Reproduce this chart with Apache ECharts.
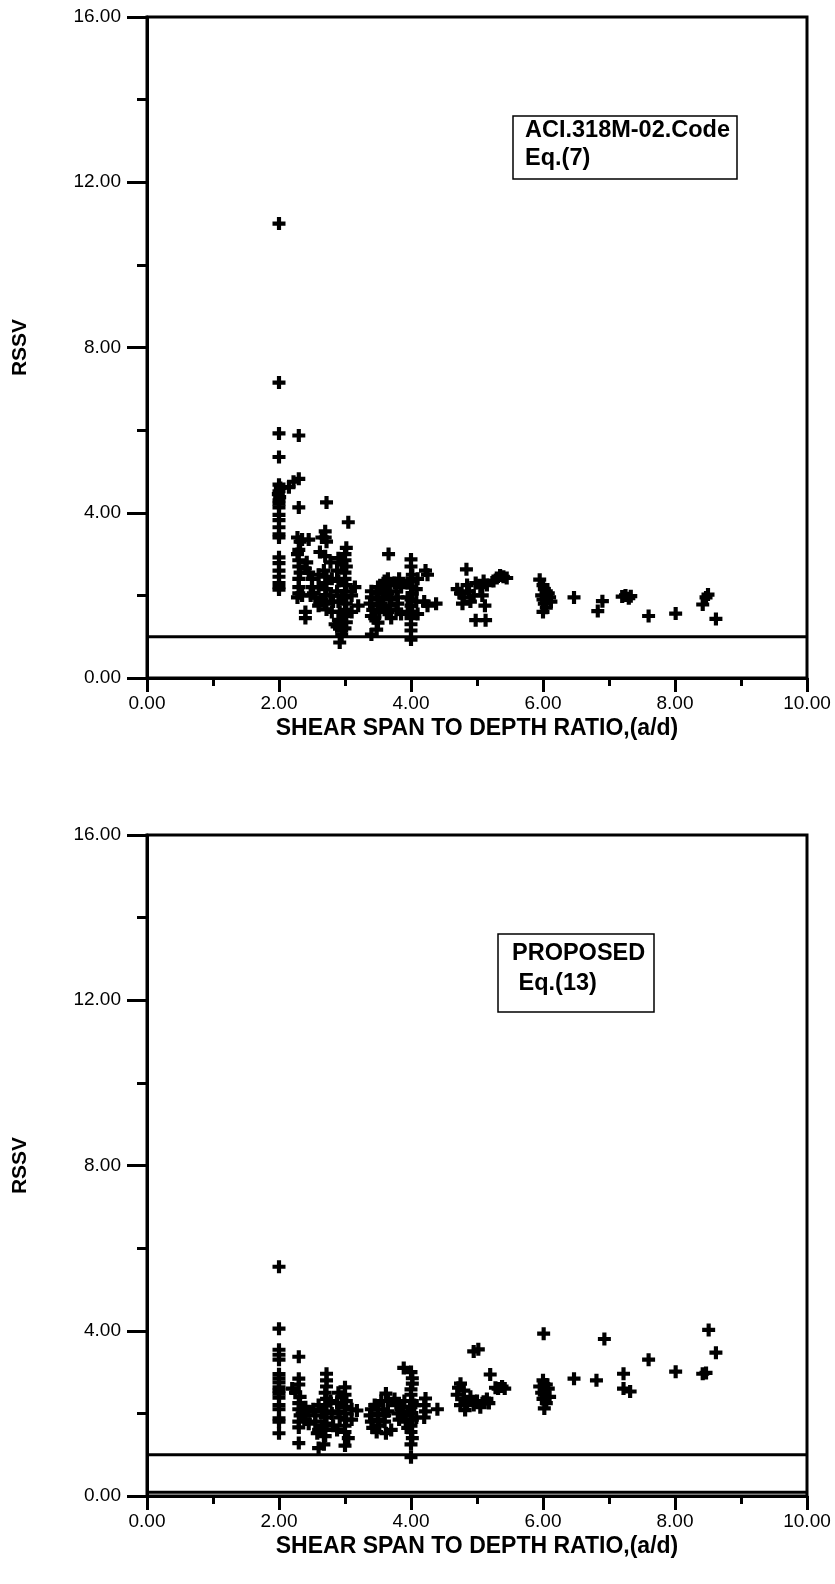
<!DOCTYPE html>
<html>
<head>
<meta charset="utf-8">
<script src="https://cdn.jsdelivr.net/npm/echarts@6/dist/echarts.min.js"></script>
<style>
html,body{margin:0;padding:0;background:#fff;}
#chart{width:835px;height:1584px;}
</style>
</head>
<body>
<div id="chart"></div>
<script>
// ---- data ----
const xTicks = [0, 2, 4, 6, 8, 10];
const yTicks = [0, 4, 8, 12, 16];
const limitValue = 1.0;           // RSSV = 1 reference line
const topLegend = ['ACI.318M-02.Code', 'Eq.(7)'];
const bottomLegend = ['PROPOSED', ' Eq.(13)'];
const xTitle = 'SHEAR SPAN TO DEPTH RATIO,(a/d)';
const yTitle = 'RSSV';

const aciPoints = [
  [2.0,11.0],[2.0,7.15],[2.0,5.92],[2.0,5.35],[2.0,4.68],[2.02,4.6],[2.0,4.52],[1.99,4.45],[2.01,4.38],[2.0,4.3],[2.0,4.22],[2.0,4.13],[2.0,3.95],[2.0,3.82],[2.0,3.65],[2.0,3.48],[2.0,3.4],[2.0,2.92],[2.0,2.78],[2.0,2.6],[2.0,2.45],[2.0,2.3],[2.0,2.2],[2.0,2.14],
  [2.15,4.62],[2.22,4.75],[2.3,4.82],[2.3,5.87],[2.3,4.13],[2.28,3.4],[2.32,3.3],[2.3,3.1],[2.28,3.0],[2.3,2.85],[2.3,2.7],[2.32,2.55],[2.3,2.4],[2.3,2.2],[2.3,2.05],[2.28,1.95],[2.35,2.0],[2.4,1.6],[2.4,1.45],[2.35,3.35],[2.45,3.35],[2.45,2.55],[2.5,2.4],[2.5,2.2],[2.48,2.0],[2.52,2.05],[2.55,1.95],[2.4,2.65],[2.42,2.8],
  [2.72,4.25],[2.7,3.55],[2.7,3.4],[2.72,3.3],[2.65,3.4],[2.62,3.05],[2.7,2.95],[2.68,2.6],[2.72,2.45],[2.7,2.3],[2.72,2.15],[2.7,2.0],[2.65,1.9],[2.7,1.8],[2.72,1.66],[2.6,2.5],[2.6,2.2],[2.6,1.75],[2.78,2.8],[2.8,2.4],[2.78,2.0],[2.82,1.85],[2.8,1.6],
  [3.05,3.77],[3.02,3.15],[3.0,3.0],[3.0,2.85],[3.02,2.7],[3.0,2.55],[3.0,2.4],[3.02,2.25],[3.0,2.1],[3.0,1.95],[3.02,1.8],[3.0,1.65],[3.0,1.5],[3.02,1.35],[3.0,1.2],[2.95,1.05],[2.92,0.86],[2.9,2.9],[2.88,2.6],[2.9,2.35],[2.88,2.1],[2.9,1.85],[2.92,1.6],[2.9,1.4],[2.88,1.25],[2.95,1.15],[2.85,1.3],[2.95,2.75],[2.95,2.0],[3.1,2.0],[3.15,2.2],[3.2,1.75],[3.1,1.6],
  [3.4,2.1],[3.4,1.95],[3.38,1.8],[3.42,1.65],[3.4,1.5],[3.5,2.2],[3.48,2.05],[3.5,1.9],[3.5,1.75],[3.52,1.6],[3.45,1.45],[3.5,1.34],[3.48,1.17],[3.4,1.05],[3.55,2.15],[3.58,1.95],[3.55,1.8],[3.6,2.35],[3.6,2.1],[3.6,1.65],
  [3.66,3.0],[3.65,2.4],[3.68,2.25],[3.65,2.05],[3.7,1.9],[3.68,1.75],[3.65,1.6],[3.7,1.45],[3.75,2.3],[3.78,2.1],[3.8,1.95],[3.8,1.8],[3.78,1.65],[3.82,2.4],[3.85,2.2],[3.85,1.55],
  [4.0,2.87],[4.0,2.7],[4.02,2.5],[4.0,2.35],[4.0,2.2],[4.02,2.05],[4.0,1.9],[4.0,1.75],[4.02,1.6],[4.0,1.45],[4.0,1.3],[4.0,1.15],[4.0,0.93],[3.95,2.3],[3.95,1.95],[3.95,1.6],[4.08,2.15],[4.08,1.85],[4.1,2.4],[4.1,1.55],
  [4.22,2.6],[4.25,2.5],[4.2,1.85],[4.25,1.75],[4.38,1.8],
  [4.84,2.63],[4.7,2.15],[4.75,2.05],[4.8,1.95],[4.85,2.25],[4.88,2.1],[4.9,1.85],[4.78,1.8],[4.95,2.0],[4.98,2.3],[5.05,2.2],[5.1,2.35],[5.15,2.25],[5.08,2.0],[5.12,1.75],[4.98,1.4],[5.13,1.4],[5.25,2.35],[5.3,2.42],[5.35,2.48],[5.4,2.45],[5.45,2.42],
  [5.95,2.38],[6.0,2.25],[6.02,2.15],[6.05,2.1],[5.98,2.0],[6.0,1.9],[6.08,2.05],[6.1,1.95],[6.02,1.8],[6.05,1.7],[6.0,1.6],[6.12,1.85],
  [6.47,1.95],[6.9,1.86],[6.83,1.62],[7.2,1.97],[7.25,2.0],[7.3,1.93],[7.33,1.98],[7.6,1.5],[8.01,1.56],[8.5,2.02],[8.47,1.95],[8.42,1.78],[8.62,1.43]
];

const proposedPoints = [
  [2.0,5.55],[2.0,4.05],[2.0,3.54],[2.0,3.42],[2.0,3.3],[2.0,2.95],[2.0,2.85],[2.0,2.75],[2.0,2.63],[2.0,2.55],[2.0,2.48],[2.0,2.38],[2.0,2.2],[2.0,2.1],[2.0,1.88],[2.0,1.8],[2.0,1.52],
  [2.3,3.37],[2.2,2.6],[2.25,2.5],[2.3,2.84],[2.3,2.7],[2.32,2.4],[2.3,2.25],[2.3,2.1],[2.32,1.95],[2.3,1.8],[2.3,1.66],[2.3,1.28],[2.35,2.0],[2.4,2.15],[2.4,1.85],[2.45,2.05],[2.45,1.75],
  [2.52,2.1],[2.55,1.95],[2.55,1.8],[2.6,2.2],[2.6,1.6],[2.58,1.52],[2.6,1.16],[2.65,2.05],[2.65,1.7],
  [2.72,2.96],[2.72,2.8],[2.72,2.65],[2.7,2.5],[2.72,2.35],[2.7,2.2],[2.72,2.05],[2.7,1.9],[2.72,1.75],[2.7,1.6],[2.7,1.45],[2.68,1.25],[2.78,2.3],[2.8,2.0],[2.82,1.7],
  [3.0,2.63],[3.0,2.45],[3.02,2.3],[3.0,2.15],[3.0,2.0],[3.02,1.85],[3.0,1.7],[3.0,1.55],[3.0,1.22],[2.9,2.5],[2.88,2.25],[2.9,2.05],[2.92,1.9],[2.88,1.6],[2.95,2.4],[3.05,1.4],[3.1,2.1],[3.18,2.07],[3.1,1.85],
  [3.4,2.1],[3.38,1.95],[3.4,1.8],[3.42,1.65],[3.45,2.2],[3.5,2.0],[3.5,1.85],[3.52,1.7],[3.48,1.55],[3.55,2.3],[3.58,2.1],[3.6,1.95],[3.6,1.8],[3.62,2.48],[3.65,2.3],[3.65,2.05],[3.7,1.6],[3.62,1.52],
  [3.75,2.35],[3.78,2.2],[3.8,2.0],[3.82,1.85],[3.85,2.15],[3.88,1.95],[3.89,3.1],[3.9,2.3],[3.92,1.8],
  [4.0,3.0],[4.02,2.85],[4.02,2.72],[4.0,2.58],[4.0,2.45],[4.02,2.3],[4.0,2.15],[4.0,2.0],[4.02,1.85],[4.0,1.7],[4.0,1.55],[4.02,1.4],[4.0,1.25],[4.0,0.94],[4.05,2.2],[4.08,1.9],[3.95,2.05],[3.95,1.65],
  [4.22,2.36],[4.2,2.2],[4.22,2.05],[4.2,1.9],[4.4,2.1],
  [4.72,2.62],[4.75,2.72],[4.7,2.45],[4.8,2.55],[4.8,2.35],[4.85,2.25],[4.75,2.2],[4.82,2.08],[4.9,2.4],[4.95,3.5],[5.02,3.55],[4.95,2.2],[5.0,2.3],[5.05,2.15],[5.1,2.28],[5.15,2.35],[5.18,2.25],[5.2,2.94],[5.28,2.62],[5.32,2.6],[5.38,2.65],[5.42,2.6],
  [6.01,3.93],[5.95,2.65],[6.0,2.8],[6.05,2.7],[5.98,2.5],[6.02,2.45],[6.08,2.6],[6.0,2.35],[6.05,2.25],[6.02,2.12],[6.1,2.4],
  [6.47,2.84],[6.81,2.8],[6.93,3.8],[7.22,2.96],[7.22,2.6],[7.32,2.53],[7.6,3.3],[8.01,3.01],[8.42,2.96],[8.47,2.98],[8.51,4.02],[8.62,3.47]
];

// ---- chart ----
const FONT = '"Liberation Sans", Arial, Helvetica, sans-serif';
const PLUS = 'path://M3.4,0H6.6V3.4H10V6.6H6.6V10H3.4V6.6H0V3.4H3.4Z';
const xMin = xTicks[0], xMax = xTicks[xTicks.length - 1];
const yMin = yTicks[0], yMax = yTicks[yTicks.length - 1];

function xAxisDef(gridIndex) {
  return {
    gridIndex, type: 'value', min: xMin, max: xMax, interval: xTicks[1] - xTicks[0],
    name: xTitle, nameLocation: 'middle', nameGap: 39,
    nameTextStyle: { fontFamily: FONT, fontWeight: 'bold', fontSize: 23, color: '#000' },
    axisLine: { show: true, onZero: false, lineStyle: { color: '#000', width: 3 } },
    axisTick: { show: true, inside: false, length: 14, lineStyle: { color: '#000', width: 3 } },
    minorTick: { show: true, splitNumber: 2, length: 8, lineStyle: { color: '#000', width: 3 } },
    axisLabel: { fontFamily: FONT, fontSize: 19, color: '#000', margin: 16, formatter: v => v.toFixed(2) },
    splitLine: { show: false }, minorSplitLine: { show: false }
  };
}
function yAxisDef(gridIndex) {
  return {
    gridIndex, type: 'value', min: yMin, max: yMax, interval: yTicks[1] - yTicks[0],
    name: yTitle, nameLocation: 'middle', nameGap: 116, nameRotate: 90,
    nameTextStyle: { fontFamily: FONT, fontWeight: 'bold', fontSize: 21, color: '#000' },
    axisLine: { show: true, onZero: false, lineStyle: { color: '#000', width: 3 } },
    axisTick: { show: true, inside: false, length: 20, lineStyle: { color: '#000', width: 3 } },
    minorTick: { show: true, splitNumber: 2, length: 10, lineStyle: { color: '#000', width: 3 } },
    axisLabel: { fontFamily: FONT, fontSize: 19, color: '#000', margin: 26, formatter: v => v.toFixed(2) },
    splitLine: { show: false }, minorSplitLine: { show: false }
  };
}
function scatter(idx, data) {
  return {
    type: 'scatter', xAxisIndex: idx, yAxisIndex: idx, data,
    symbol: PLUS, symbolSize: 13, itemStyle: { color: '#000', opacity: 1 },
    silent: true, z: 3
  };
}
function hline(idx, y, w) {
  return {
    type: 'line', xAxisIndex: idx, yAxisIndex: idx,
    data: [[xMin, y], [xMax, y]], symbol: 'none', silent: true, z: 2,
    lineStyle: { color: '#000', width: w }
  };
}
function legendBox(x, y, w, h, lines, tx, ty, lh) {
  return [
    { type: 'rect', shape: { x, y, width: w, height: h }, style: { fill: '#fff', stroke: '#000', lineWidth: 1.5 }, z: 10 },
    { type: 'text', x: tx, y: ty, style: { text: lines[0], font: 'bold 23.5px ' + FONT, fill: '#000', textVerticalAlign: 'middle' }, z: 11 },
    { type: 'text', x: tx, y: ty + lh, style: { text: lines[1], font: 'bold 23.5px ' + FONT, fill: '#000', textVerticalAlign: 'middle' }, z: 11 }
  ];
}

const chart = echarts.init(document.getElementById('chart'), null, { renderer: 'canvas' });
chart.setOption({
  animation: false,
  backgroundColor: '#fff',
  grid: [
    { left: 147, top: 17, width: 660, height: 661, show: true, borderColor: '#000', borderWidth: 3, backgroundColor: 'transparent' },
    { left: 147, top: 835, width: 660, height: 661, show: true, borderColor: '#000', borderWidth: 3, backgroundColor: 'transparent' }
  ],
  xAxis: [xAxisDef(0), xAxisDef(1)],
  yAxis: [yAxisDef(0), yAxisDef(1)],
  series: [
    hline(0, limitValue, 3),
    scatter(0, aciPoints),
    hline(1, limitValue, 3),
    hline(1, 0.09, 3),
    scatter(1, proposedPoints)
  ],
  graphic: [
    ...legendBox(513, 116, 224, 63, topLegend, 525, 131, 28),
    ...legendBox(498, 934, 156, 78, bottomLegend, 512, 954, 30)
  ]
});
</script>
</body>
</html>
